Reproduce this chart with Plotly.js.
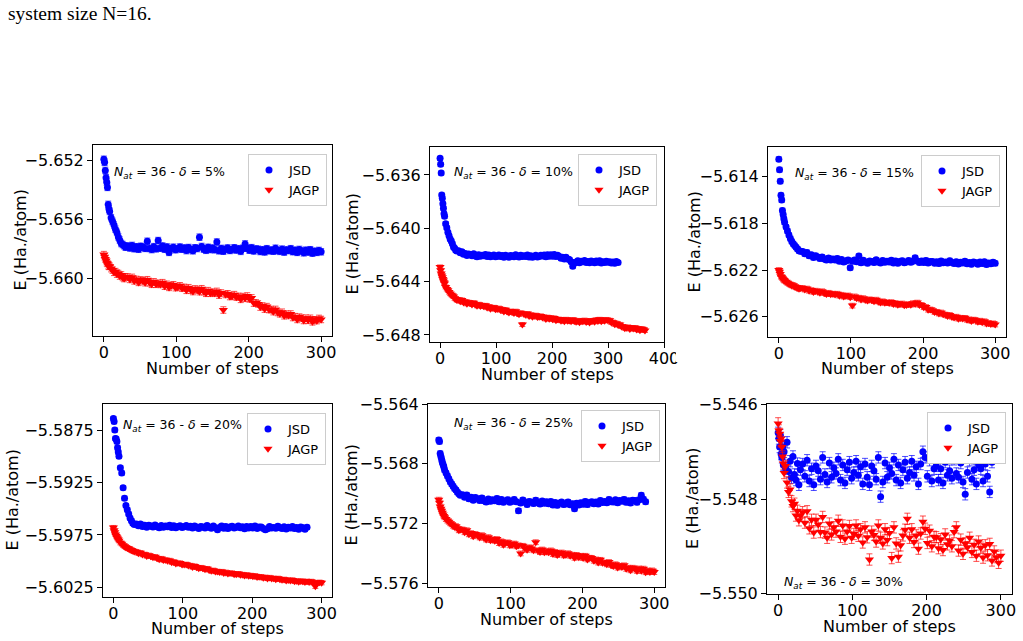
<!DOCTYPE html>
<html><head><meta charset="utf-8">
<script src="https://cdn.plot.ly/plotly-3.0.1.min.js"></script>
<style>html,body{margin:0;padding:0;background:#fff}#chart{width:1023px;height:641px}</style>
</head><body><div id="chart"></div>
<script>
// ---------- data ----------
const steps = [0,1,2,3,4,5,6,7,8,10,12,14,16,18,20,22,24,26,28,30,
33,36,39,42,45,48,51,54,57,60,63,66,69,72,75,78,81,84,87,90,
93,96,99,102,105,108,111,114,117,120,123,126,129,132,135,138,141,144,147,150,
153,156,159,162,165,168,171,174,177,180,183,186,189,192,195,198,201,204,207,210,
213,216,219,222,225,228,231,234,237,240,243,246,249,252,255,258,261,264,267,270,
273,276,279,282,285,288,291,294,297,300,303,306,309,312,315,318,321,324,327,330,
333,336,339,342,345,348,351,354,357,360,363,366];
const seriesNames = ["JSD","JAGP"];
const panelLabels = ["5%","10%","15%","20%","25%","30%"];
const natoms = 36;

const jsd5 = [-5.65195,-5.65215,-5.65270,-5.65320,-5.65350,-5.65385,-5.65500,-5.65530,-5.65548,-5.65590,-5.65615,-5.65640,-5.65668,-5.65690,-5.65720,-5.65742,-5.65765,-5.65772,-5.65780,-5.65790,
-5.65782,-5.65795,-5.65778,-5.65800,-5.65787,-5.65804,-5.65784,-5.65789,-5.65798,-5.65750,
-5.65798,-5.65806,-5.65786,-5.65801,-5.65745,-5.65797,-5.65782,-5.65804,-5.65788,-5.65825,
-5.65798,-5.65790,-5.65807,-5.65801,-5.65789,-5.65804,-5.65795,-5.65813,-5.65792,-5.65806,
-5.65814,-5.65794,-5.65799,-5.65722,-5.65785,-5.65803,-5.65811,-5.65791,-5.65806,-5.65796,
-5.65807,-5.65755,-5.65814,-5.65798,-5.65817,-5.65803,-5.65795,-5.65812,-5.65806,-5.65794,
-5.65809,-5.65800,-5.65818,-5.65797,-5.65768,-5.65797,-5.65810,-5.65793,-5.65815,-5.65802,
-5.65804,-5.65819,-5.65807,-5.65822,-5.65800,-5.65814,-5.65809,-5.65817,-5.65797,-5.65812,
-5.65818,-5.65803,-5.65823,-5.65808,-5.65813,-5.65800,-5.65820,-5.65810,-5.65825,-5.65805,
-5.65815,-5.65828,-5.65810,-5.65823,-5.65807,-5.65830,-5.65817,-5.65825,-5.65812,-5.65821];
const jagp5 = [-5.65840,-5.65855,-5.65870,-5.65880,-5.65895,-5.65900,-5.65915,-5.65920,-5.65918,-5.65935,-5.65945,-5.65960,-5.65955,-5.65972,-5.65968,-5.65985,-5.65978,-5.65995,-5.66002,-5.65990,
-5.65992,-5.66008,-5.65994,-5.66018,-5.66008,-5.66028,-5.66011,-5.66018,-5.66030,-5.66010,
-5.66031,-5.66041,-5.66024,-5.66041,-5.66034,-5.66042,-5.66030,-5.66054,-5.66041,-5.66062,
-5.66050,-5.66044,-5.66064,-5.66060,-5.66051,-5.66068,-5.66062,-5.66082,-5.66064,-5.66080,
-5.66090,-5.66072,-5.66080,-5.66091,-5.66071,-5.66091,-5.66102,-5.66084,-5.66102,-5.66094,
-5.66102,-5.66089,-5.66114,-5.66100,-5.66215,-5.66110,-5.66105,-5.66124,-5.66121,-5.66111,
-5.66128,-5.66123,-5.66143,-5.66124,-5.66136,-5.66120,-5.66140,-5.66133,-5.66168,-5.66167,
-5.66174,-5.66195,-5.66188,-5.66209,-5.66192,-5.66212,-5.66212,-5.66226,-5.66211,-5.66232,
-5.66241,-5.66230,-5.66254,-5.66243,-5.66252,-5.66242,-5.66266,-5.66260,-5.66279,-5.66263,
-5.66270,-5.66286,-5.66270,-5.66285,-5.66271,-5.66295,-5.66281,-5.66287,-5.66272,-5.66279];

const jsd10 = [-5.63475,-5.63520,-5.63585,-5.63750,-5.63775,-5.63815,-5.63850,-5.63890,-5.63910,-5.63965,-5.63995,-5.64030,-5.64055,-5.64080,-5.64095,-5.64115,-5.64140,-5.64150,-5.64165,-5.64170,
-5.64169,-5.64184,-5.64176,-5.64195,-5.64189,-5.64204,-5.64192,-5.64197,-5.64205,-5.64190,
-5.64207,-5.64213,-5.64199,-5.64209,-5.64202,-5.64206,-5.64196,-5.64211,-5.64200,-5.64213,
-5.64207,-5.64201,-5.64213,-5.64209,-5.64200,-5.64211,-5.64204,-5.64217,-5.64202,-5.64212,
-5.64218,-5.64204,-5.64207,-5.64214,-5.64198,-5.64210,-5.64216,-5.64202,-5.64212,-5.64205,
-5.64211,-5.64201,-5.64216,-5.64205,-5.64218,-5.64209,-5.64203,-5.64215,-5.64211,-5.64202,
-5.64208,-5.64201,-5.64214,-5.64199,-5.64209,-5.64199,-5.64209,-5.64197,-5.64212,-5.64203,
-5.64211,-5.64224,-5.64218,-5.64230,-5.64218,-5.64231,-5.64234,-5.64250,-5.64285,-5.64261,
-5.64254,-5.64244,-5.64258,-5.64247,-5.64251,-5.64242,-5.64256,-5.64249,-5.64259,-5.64245,
-5.64250,-5.64259,-5.64246,-5.64255,-5.64244,-5.64260,-5.64251,-5.64257,-5.64248,-5.64254,
-5.64250,-5.64261,-5.64252,-5.64263,-5.64249,-5.64257];
const jagp10 = [-5.64290,-5.64315,-5.64340,-5.64355,-5.64368,-5.64380,-5.64392,-5.64405,-5.64415,-5.64440,-5.64455,-5.64465,-5.64478,-5.64490,-5.64498,-5.64505,-5.64512,-5.64525,-5.64530,-5.64538,
-5.64534,-5.64547,-5.64538,-5.64556,-5.64550,-5.64566,-5.64555,-5.64561,-5.64571,-5.64558,
-5.64572,-5.64581,-5.64570,-5.64582,-5.64578,-5.64585,-5.64578,-5.64595,-5.64587,-5.64603,
-5.64596,-5.64593,-5.64607,-5.64606,-5.64599,-5.64613,-5.64608,-5.64624,-5.64611,-5.64624,
-5.64632,-5.64621,-5.64626,-5.64636,-5.64622,-5.64637,-5.64645,-5.64634,-5.64722,-5.64642,
-5.64648,-5.64640,-5.64657,-5.64648,-5.64663,-5.64656,-5.64652,-5.64666,-5.64664,-5.64657,
-5.64670,-5.64665,-5.64680,-5.64667,-5.64679,-5.64671,-5.64683,-5.64673,-5.64690,-5.64683,
-5.64682,-5.64693,-5.64686,-5.64697,-5.64683,-5.64694,-5.64691,-5.64698,-5.64685,-5.64696,
-5.64701,-5.64691,-5.64705,-5.64694,-5.64698,-5.64689,-5.64703,-5.64696,-5.64706,-5.64692,
-5.64693,-5.64701,-5.64687,-5.64695,-5.64683,-5.64698,-5.64688,-5.64693,-5.64684,-5.64691,
-5.64690,-5.64707,-5.64704,-5.64720,-5.64712,-5.64725,-5.64721,-5.64737,-5.64737,-5.64749,
-5.64747,-5.64740,-5.64755,-5.64745,-5.64752,-5.64745,-5.64759,-5.64752,-5.64765,-5.64753,
-5.64758,-5.64766];

const jsd15 = [-5.61250,-5.61340,-5.61440,-5.61560,-5.61600,-5.61690,-5.61725,-5.61760,-5.61790,-5.61830,-5.61865,-5.61900,-5.61930,-5.61955,-5.61975,-5.61990,-5.62005,-5.62020,-5.62035,-5.62040,
-5.62042,-5.62061,-5.62049,-5.62077,-5.62069,-5.62092,-5.62077,-5.62088,-5.62102,-5.62088,
-5.62105,-5.62115,-5.62097,-5.62114,-5.62106,-5.62114,-5.62101,-5.62125,-5.62111,-5.62132,
-5.62123,-5.62115,-5.62180,-5.62126,-5.62114,-5.62129,-5.62080,-5.62138,-5.62117,-5.62131,
-5.62142,-5.62122,-5.62127,-5.62136,-5.62113,-5.62131,-5.62139,-5.62119,-5.62134,-5.62124,
-5.62132,-5.62117,-5.62139,-5.62123,-5.62142,-5.62128,-5.62120,-5.62137,-5.62131,-5.62119,
-5.62134,-5.62125,-5.62095,-5.62122,-5.62136,-5.62122,-5.62135,-5.62118,-5.62140,-5.62127,
-5.62127,-5.62142,-5.62130,-5.62145,-5.62123,-5.62137,-5.62132,-5.62140,-5.62120,-5.62135,
-5.62144,-5.62129,-5.62149,-5.62134,-5.62139,-5.62126,-5.62146,-5.62136,-5.62151,-5.62131,
-5.62137,-5.62150,-5.62132,-5.62145,-5.62129,-5.62152,-5.62139,-5.62147,-5.62134,-5.62143];
const jagp15 = [-5.62200,-5.62215,-5.62235,-5.62255,-5.62262,-5.62270,-5.62280,-5.62285,-5.62292,-5.62300,-5.62310,-5.62318,-5.62325,-5.62332,-5.62330,-5.62342,-5.62348,-5.62352,-5.62360,-5.62355,
-5.62354,-5.62368,-5.62359,-5.62378,-5.62372,-5.62388,-5.62377,-5.62384,-5.62394,-5.62382,
-5.62397,-5.62406,-5.62395,-5.62407,-5.62403,-5.62410,-5.62403,-5.62420,-5.62412,-5.62428,
-5.62421,-5.62418,-5.62433,-5.62505,-5.62426,-5.62441,-5.62437,-5.62453,-5.62441,-5.62454,
-5.62462,-5.62451,-5.62457,-5.62467,-5.62454,-5.62470,-5.62479,-5.62468,-5.62481,-5.62477,
-5.62483,-5.62475,-5.62492,-5.62483,-5.62498,-5.62491,-5.62487,-5.62501,-5.62499,-5.62492,
-5.62498,-5.62484,-5.62491,-5.62479,-5.62499,-5.62499,-5.62519,-5.62517,-5.62540,-5.62538,
-5.62544,-5.62560,-5.62558,-5.62573,-5.62564,-5.62580,-5.62582,-5.62593,-5.62585,-5.62601,
-5.62607,-5.62600,-5.62617,-5.62609,-5.62616,-5.62610,-5.62627,-5.62623,-5.62636,-5.62625,
-5.62631,-5.62644,-5.62634,-5.62647,-5.62639,-5.62659,-5.62653,-5.62663,-5.62657,-5.62667];

const jsd20 = [-5.58640,-5.58670,-5.58750,-5.58830,-5.58835,-5.58860,-5.58920,-5.58960,-5.59000,-5.59110,-5.59160,-5.59300,-5.59400,-5.59470,-5.59510,-5.59550,-5.59590,-5.59615,-5.59640,-5.59650,
-5.59647,-5.59662,-5.59646,-5.59670,-5.59658,-5.59677,-5.59658,-5.59665,-5.59675,-5.59656,
-5.59673,-5.59681,-5.59661,-5.59676,-5.59666,-5.59672,-5.59657,-5.59679,-5.59663,-5.59682,
-5.59670,-5.59662,-5.59679,-5.59673,-5.59661,-5.59676,-5.59667,-5.59685,-5.59664,-5.59678,
-5.59689,-5.59669,-5.59674,-5.59683,-5.59660,-5.59678,-5.59686,-5.59666,-5.59681,-5.59700,
-5.59679,-5.59664,-5.59686,-5.59670,-5.59689,-5.59675,-5.59667,-5.59684,-5.59678,-5.59666,
-5.59682,-5.59673,-5.59691,-5.59670,-5.59684,-5.59670,-5.59683,-5.59666,-5.59688,-5.59675,
-5.59674,-5.59689,-5.59700,-5.59692,-5.59670,-5.59684,-5.59679,-5.59687,-5.59667,-5.59682,
-5.59688,-5.59673,-5.59693,-5.59678,-5.59683,-5.59670,-5.59690,-5.59680,-5.59695,-5.59675,
-5.59682,-5.59695,-5.59677];
const jagp20 = [-5.59680,-5.59705,-5.59725,-5.59745,-5.59760,-5.59772,-5.59785,-5.59795,-5.59805,-5.59825,-5.59835,-5.59848,-5.59858,-5.59868,-5.59875,-5.59880,-5.59888,-5.59895,-5.59902,-5.59908,
-5.59910,-5.59924,-5.59919,-5.59938,-5.59935,-5.59951,-5.59944,-5.59953,-5.59964,-5.59958,
-5.59972,-5.59981,-5.59975,-5.59989,-5.59988,-5.59996,-5.59993,-5.60010,-5.60006,-5.60022,
-5.60019,-5.60018,-5.60032,-5.60033,-5.60030,-5.60042,-5.60041,-5.60055,-5.60047,-5.60059,
-5.60067,-5.60061,-5.60068,-5.60077,-5.60071,-5.60084,-5.60092,-5.60087,-5.60099,-5.60098,
-5.60104,-5.60099,-5.60112,-5.60106,-5.60119,-5.60114,-5.60113,-5.60124,-5.60124,-5.60119,
-5.60130,-5.60127,-5.60138,-5.60130,-5.60140,-5.60136,-5.60145,-5.60139,-5.60152,-5.60148,
-5.60149,-5.60158,-5.60154,-5.60165,-5.60156,-5.60165,-5.60164,-5.60172,-5.60164,-5.60173,
-5.60178,-5.60173,-5.60185,-5.60179,-5.60184,-5.60179,-5.60191,-5.60188,-5.60196,-5.60189,
-5.60191,-5.60199,-5.60192,-5.60199,-5.60193,-5.60206,-5.60240,-5.60206,-5.60201,-5.60206];

const jsd25 = [-5.56640,-5.56650,-5.56730,-5.56750,-5.56770,-5.56790,-5.56805,-5.56820,-5.56840,-5.56860,-5.56880,-5.56900,-5.56920,-5.56935,-5.56950,-5.56965,-5.56975,-5.56990,-5.57000,-5.57010,
-5.57007,-5.57023,-5.57009,-5.57034,-5.57024,-5.57043,-5.57026,-5.57034,-5.57045,-5.57028,
-5.57048,-5.57056,-5.57036,-5.57051,-5.57041,-5.57047,-5.57032,-5.57054,-5.57038,-5.57057,
-5.57048,-5.57040,-5.57057,-5.57051,-5.57039,-5.57054,-5.57115,-5.57063,-5.57042,-5.57056,
-5.57072,-5.57052,-5.57057,-5.57066,-5.57043,-5.57061,-5.57069,-5.57049,-5.57064,-5.57054,
-5.57068,-5.57053,-5.57075,-5.57059,-5.57078,-5.57064,-5.57056,-5.57073,-5.57067,-5.57055,
-5.57074,-5.57067,-5.57100,-5.57064,-5.57076,-5.57060,-5.57071,-5.57052,-5.57073,-5.57059,
-5.57054,-5.57068,-5.57055,-5.57069,-5.57046,-5.57059,-5.57053,-5.57060,-5.57039,-5.57054,
-5.57056,-5.57041,-5.57061,-5.57046,-5.57051,-5.57038,-5.57058,-5.57048,-5.57063,-5.57043,
-5.57045,-5.57058,-5.57040,-5.57010,-5.57037,-5.57054];
const jagp25 = [-5.57040,-5.57060,-5.57085,-5.57100,-5.57115,-5.57128,-5.57140,-5.57150,-5.57158,-5.57170,-5.57180,-5.57188,-5.57198,-5.57205,-5.57215,-5.57222,-5.57218,-5.57232,-5.57245,-5.57240,
-5.57240,-5.57258,-5.57245,-5.57272,-5.57264,-5.57285,-5.57270,-5.57280,-5.57293,-5.57278,
-5.57295,-5.57307,-5.57291,-5.57311,-5.57305,-5.57315,-5.57304,-5.57331,-5.57319,-5.57342,
-5.57331,-5.57326,-5.57346,-5.57343,-5.57334,-5.57352,-5.57346,-5.57400,-5.57349,-5.57366,
-5.57376,-5.57359,-5.57367,-5.57379,-5.57325,-5.57380,-5.57391,-5.57374,-5.57392,-5.57385,
-5.57393,-5.57380,-5.57404,-5.57390,-5.57411,-5.57400,-5.57394,-5.57413,-5.57409,-5.57399,
-5.57416,-5.57409,-5.57429,-5.57410,-5.57426,-5.57416,-5.57431,-5.57416,-5.57440,-5.57429,
-5.57430,-5.57449,-5.57441,-5.57461,-5.57443,-5.57462,-5.57461,-5.57473,-5.57458,-5.57477,
-5.57485,-5.57473,-5.57495,-5.57483,-5.57491,-5.57480,-5.57503,-5.57496,-5.57513,-5.57496,
-5.57502,-5.57517,-5.57501,-5.57516,-5.57502,-5.57526,-5.57515,-5.57525,-5.57514,-5.57525];

const jsd30 = [-5.54660,-5.54672,-5.54690,-5.54665,-5.54705,-5.54712,-5.54690,-5.54728,-5.54700,-5.54735,-5.54680,-5.54742,-5.54720,-5.54755,-5.54710,-5.54748,-5.54760,-5.54725,-5.54770,-5.54738,
-5.54726,-5.54752,-5.54718,-5.54762,-5.54736,-5.54770,-5.54730,-5.54740,-5.54758,-5.54712,
-5.54748,-5.54764,-5.54724,-5.54754,-5.54734,-5.54746,-5.54716,-5.54760,-5.54728,-5.54766,
-5.54738,-5.54722,-5.54756,-5.54744,-5.54720,-5.54750,-5.54732,-5.54768,-5.54726,-5.54754,
-5.54770,-5.54730,-5.54740,-5.54758,-5.54712,-5.54795,-5.54764,-5.54724,-5.54754,-5.54734,
-5.54746,-5.54716,-5.54760,-5.54728,-5.54766,-5.54738,-5.54722,-5.54756,-5.54744,-5.54720,
-5.54750,-5.54732,-5.54768,-5.54726,-5.54700,-5.54712,-5.54752,-5.54718,-5.54762,-5.54736,
-5.54730,-5.54760,-5.54736,-5.54766,-5.54722,-5.54750,-5.54740,-5.54756,-5.54716,-5.54746,
-5.54754,-5.54724,-5.54764,-5.54790,-5.54744,-5.54718,-5.54758,-5.54738,-5.54768,-5.54728,
-5.54736,-5.54762,-5.54726,-5.54752,-5.54785,-5.54722];
const jagp30 = [-5.54640,-5.54655,-5.54662,-5.54678,-5.54672,-5.54690,-5.54710,-5.54725,-5.54745,-5.54730,-5.54765,-5.54785,-5.54780,-5.54805,-5.54815,-5.54810,-5.54835,-5.54825,-5.54845,-5.54835,
-5.54828,-5.54850,-5.54826,-5.54862,-5.54844,-5.54871,-5.54844,-5.54854,-5.54870,-5.54838,
-5.54871,-5.54882,-5.54852,-5.54875,-5.54860,-5.54869,-5.54846,-5.54880,-5.54856,-5.54884,
-5.54869,-5.54857,-5.54882,-5.54874,-5.54856,-5.54878,-5.54864,-5.54892,-5.54860,-5.54881,
-5.54928,-5.54869,-5.54876,-5.54890,-5.54856,-5.54882,-5.54894,-5.54864,-5.54887,-5.54872,
-5.54925,-5.54860,-5.54894,-5.54922,-5.54898,-5.54877,-5.54865,-5.54842,-5.54882,-5.54864,
-5.54891,-5.54877,-5.54905,-5.54873,-5.54848,-5.54863,-5.54893,-5.54867,-5.54900,-5.54880,
-5.54881,-5.54904,-5.54885,-5.54908,-5.54875,-5.54896,-5.54888,-5.54900,-5.54870,-5.54860,
-5.54909,-5.54886,-5.54916,-5.54894,-5.54902,-5.54882,-5.54912,-5.54897,-5.54920,-5.54890,
-5.54903,-5.54924,-5.54898,-5.54919,-5.54895,-5.54930,-5.54911,-5.54923,-5.54935,-5.54920];

// statistical error bars (Ha/atom)
const errJSD  = [0.00022, 0.00015, 0.00020, 0.00020, 0.00016, 0.00012];
const errJAGP = [0.00022, 0.00015, 0.00020, 0.00020, 0.00016, 0.00012];

const jsdSets  = [jsd5, jsd10, jsd15, jsd20, jsd25, jsd30];
const jagpSets = [jagp5, jagp10, jagp15, jagp20, jagp25, jagp30];

// ---------- layout geometry (pixels) ----------
const W = 1023, H = 641;
const fx = p => p / W, fy = p => 1 - p / H;
const panels = [
  {box:[93,332,145,336],  xr:[-15,315], yr:[-5.66391,-5.65098], t0:-5.664,  dt:0.004, fmt:'.3f', leg:[327,154], ann:[112,172], yt:20,    xt:368},
  {box:[430,664,147,342], xr:[-18,400], yr:[-5.64853,-5.63390], t0:-5.648,  dt:0.004, fmt:'.3f', leg:[657,154], ann:[452,172], yt:352,   xt:374},
  {box:[768,1006,147,337],xr:[-15,315], yr:[-5.62774,-5.61146], t0:-5.626,  dt:0.004, fmt:'.3f', leg:[1000,155],ann:[793,173], yt:693.5, xt:368},
  {box:[103,332,404,597], xr:[-15,315], yr:[-5.60342,-5.58502], t0:-5.6025, dt:0.005, fmt:'.4f', leg:[326,413], ann:[121,425], yt:12,    xt:628},
  {box:[428,665,404,587], xr:[-15,315], yr:[-5.57625,-5.56399], t0:-5.576,  dt:0.004, fmt:'.3f', leg:[660,410], ann:[452,423], yt:351,   xt:619},
  {box:[767,1012,404,594],xr:[-15,315], yr:[-5.55001,-5.54599], t0:-5.550,  dt:0.002, fmt:'.3f', leg:[1006,412],ann:[782,582], yt:692,   xt:626}
];

const FONT = 'DejaVu Sans, sans-serif';
const traces = [];
const layout = {
  width: W, height: H, margin:{l:0,r:0,t:0,b:0},
  paper_bgcolor:'#fff', plot_bgcolor:'#fff', showlegend:true,
  font:{family:FONT, color:'#000'},
  annotations:[], shapes:[]
};

panels.forEach((p, i) => {
  const n = i === 0 ? '' : String(i + 1);
  const xa = 'x' + n, ya = 'y' + n, lg = 'legend' + n;
  const js = jsdSets[i], ja = jagpSets[i];
  traces.push({
    type:'scatter', mode:'markers', name:seriesNames[0], xaxis:xa, yaxis:ya, legend:lg,
    x: steps.slice(0, js.length), y: js,
    marker:{symbol:'circle', size:7, color:'#0000ff'},
    error_y:{type:'constant', value:errJSD[i], thickness:1, width:3, color:'rgba(0,0,255,0.7)'}
  });
  traces.push({
    type:'scatter', mode:'markers', name:seriesNames[1], xaxis:xa, yaxis:ya, legend:lg,
    x: steps.slice(0, ja.length), y: ja,
    marker:{symbol:'triangle-down', size:8, color:'#ff0000'},
    error_y:{type:'constant', value:errJAGP[i], thickness:1, width:3, color:'rgba(255,0,0,0.7)'}
  });
  const common = {showline:true, mirror:true, linecolor:'#000', linewidth:1, ticks:'outside',
    ticklen:5, tickwidth:1, tickcolor:'#000', showgrid:false, zeroline:false,
    tickfont:{family:FONT, size:16, color:'#000'}};
  layout['xaxis' + n] = Object.assign({}, common, {
    domain:[fx(p.box[0]), fx(p.box[1])], range:p.xr, anchor:ya,
    tickmode:'linear', tick0:0, dtick:100, ticklabelstandoff:-3});
  layout['yaxis' + n] = Object.assign({}, common, {
    domain:[fy(p.box[3]), fy(p.box[2])], range:p.yr, anchor:xa,
    tickmode:'linear', tick0:p.t0, dtick:p.dt, tickformat:p.fmt});
  layout[lg] = {x:fx(p.leg[0]), y:fy(p.leg[1]), xanchor:'right', yanchor:'top',
    bgcolor:'#fff', bordercolor:'#cccccc', borderwidth:1,
    font:{family:FONT, size:13, color:'#000'}, tracegroupgap:0};
  layout.annotations.push({
    xref:'paper', yref:'paper', x:fx(p.ann[0]), y:fy(p.ann[1]), xanchor:'left', yanchor:'middle',
    showarrow:false, font:{family:FONT, size:12.5, color:'#000'},
    text:'<i>N</i><sub><i>at</i></sub> = ' + natoms + ' - <i>δ</i> = ' + panelLabels[i]
  });
  layout.annotations.push({
    xref:'paper', yref:'paper', x:fx(p.yt), y:fy((p.box[2] + p.box[3]) / 2), xanchor:'center', yanchor:'middle',
    textangle:-90, showarrow:false, font:{family:FONT, size:16, color:'#000'}, text:'E (Ha./atom)'
  });
  layout.annotations.push({
    xref:'paper', yref:'paper', x:fx((p.box[0] + p.box[1]) / 2), y:fy(p.xt), xanchor:'center', yanchor:'middle',
    showarrow:false, font:{family:FONT, size:16, color:'#000'}, text:'Number of steps'
  });
});

// the neighbouring panel clips the last tick label of the second panel
layout.shapes.push({type:'rect', xref:'paper', yref:'paper', layer:'above',
  x0:fx(676), x1:fx(690), y0:fy(362), y1:fy(344), fillcolor:'#fff', line:{width:0}});

layout.annotations.push({
  xref:'paper', yref:'paper', x:fx(6), y:fy(14), xanchor:'left', yanchor:'middle',
  showarrow:false, font:{family:'Liberation Serif, serif', size:19.5, color:'#000'}, text:'system size N=16.'
});

Plotly.newPlot('chart', traces, layout, {displayModeBar:false, staticPlot:true});
</script>
</body></html>
